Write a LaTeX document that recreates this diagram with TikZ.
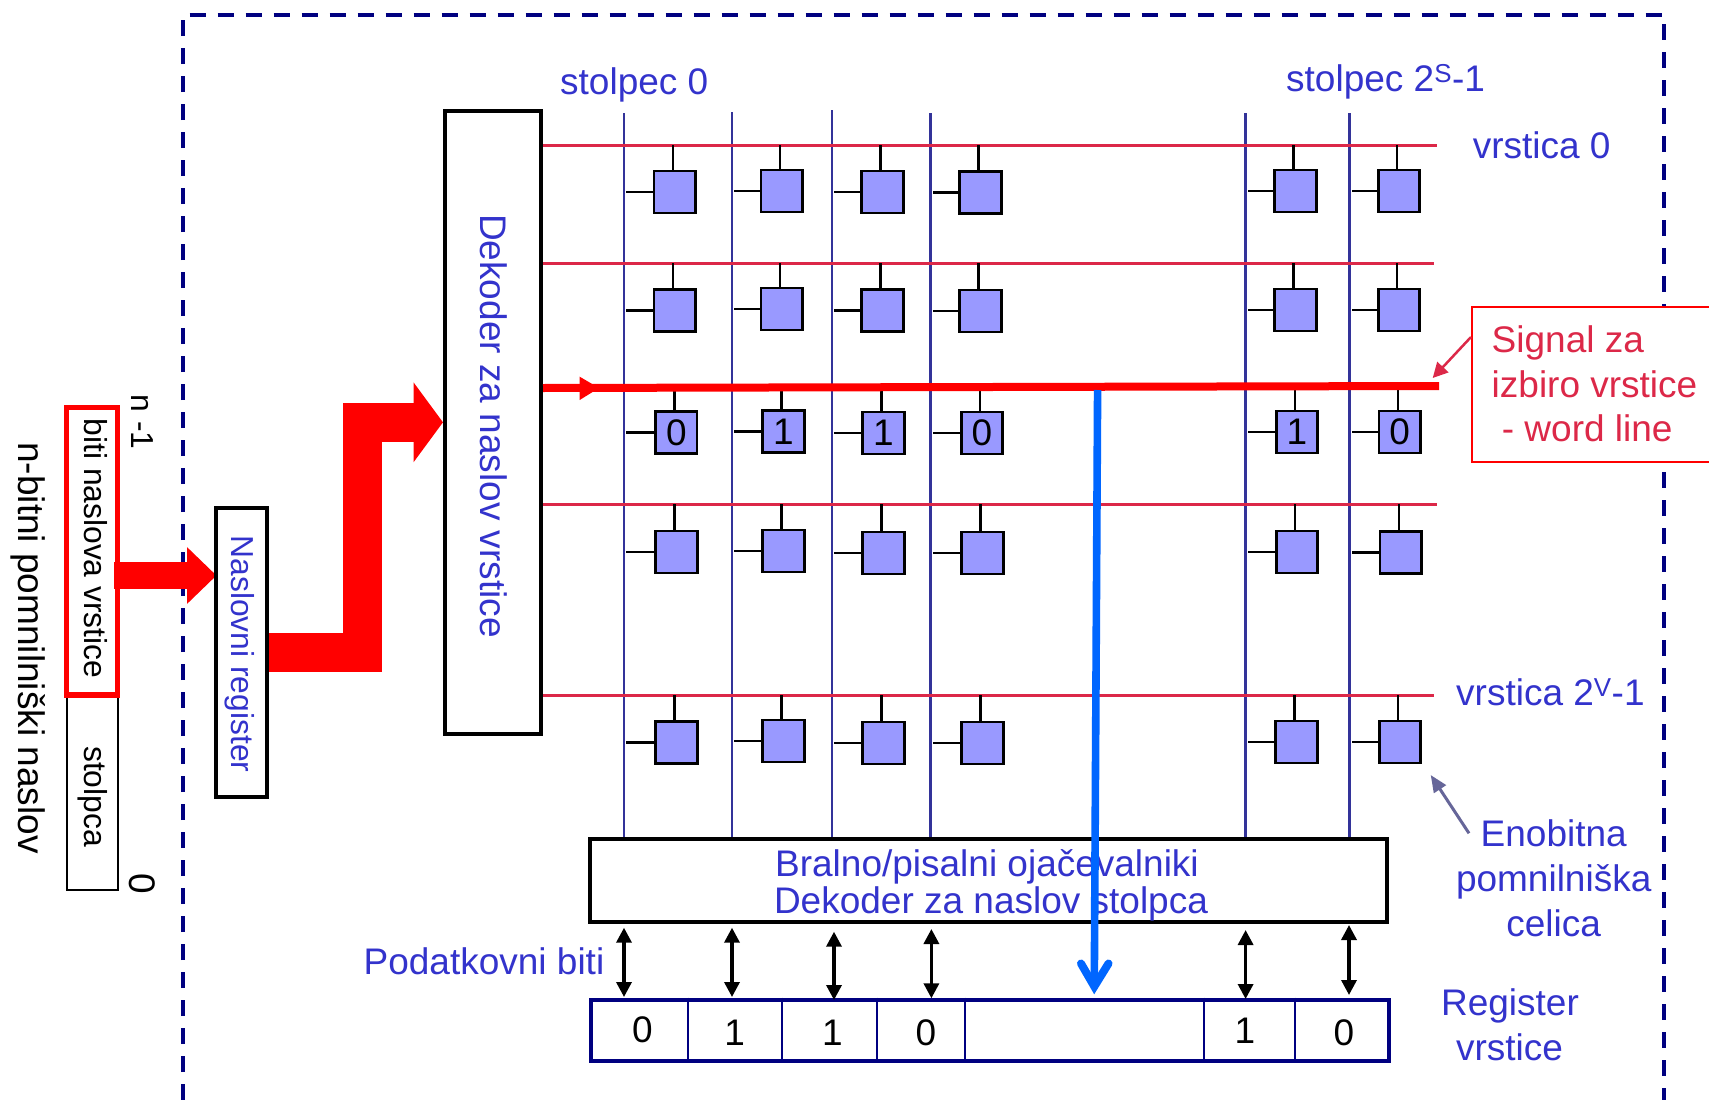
\documentclass[tikz,border=0pt]{standalone}
\usepackage{fontspec}
\setmainfont{Liberation Sans}
\usetikzlibrary{arrows.meta,calc}
\definecolor{txtblue}{HTML}{3333CC}
\definecolor{bitblue}{HTML}{333399}
\definecolor{navyframe}{HTML}{000080}
\definecolor{crimson}{HTML}{DC2848}
\definecolor{cellfill}{HTML}{9999FF}
\definecolor{hiblue}{HTML}{0066FF}
\definecolor{pointer}{HTML}{666699}
\newcommand{\bigfont}{\fontsize{37}{44}\selectfont}
\newcommand{\midfont}{\fontsize{31.8}{38}\selectfont}
\tikzset{
  box/.style={draw=black,fill=white,line width=4pt,inner sep=0pt},
  blabel/.style={text=txtblue,font=\bigfont,inner sep=0pt,align=center},
  cellbox/.style={draw=black,fill=cellfill,line width=2.6pt,minimum width=41.5pt,minimum height=42pt,inner sep=0pt,font=\bigfont},
  stub/.style={draw=black,line width=2.4pt},
  wordline/.style={draw=crimson,line width=3pt},
  bitline/.style={draw=bitblue,line width=2.6pt},
  dbl/.style={draw=black,line width=3.4pt,{Triangle[length=15pt,width=15pt]}-{Triangle[length=15pt,width=15pt]}},
  regdiv/.style={draw=navyframe,line width=1.8pt},
  digit/.style={font=\bigfont,inner sep=0pt},
  sigtext/.style={anchor=base west,text=crimson,font=\bigfont,inner sep=0pt},
  sidelabel/.style={blabel,anchor=base},
}
\begin{document}
\begin{tikzpicture}[x=1pt,y=-1pt]
\useasboundingbox (0,0) rectangle (1709,1100);
\fill[white] (0,0) rectangle (1709,1100);
% frame
\coordinate (fa) at (183,1100); \coordinate (fb) at (183,14.5); \coordinate (fc) at (1664,14.5); \coordinate (fd) at (1664,1100);
\draw[navyframe,line width=4pt,dash pattern=on 16pt off 12pt] (fa) -- (fb) -- (fc) -- (fd);
% address register
\node[draw=black,fill=white,line width=1.8pt,minimum width=51pt,minimum height=193pt,inner sep=0pt] (cb) at (92.5,793.5) {};
\node[rotate=-90,font=\midfont,inner sep=0pt] (cbt) at (93,796.5) {stolpca};
\coordinate (a1s) at (114,575.5); \coordinate (a1e) at (216.5,575.5);
\draw[line width=27pt,red,-{Triangle[length=29.5pt,width=55pt]}] (a1s) -- (a1e);
\node[draw=red,fill=none,line width=5.5pt,minimum width=51pt,minimum height=287.5pt,inner sep=0pt] (rr) at (92,551.25) {};
\node[rotate=-90,font=\midfont,inner sep=0pt] (rrt) at (96,548.5) {biti naslova vrstice};
\node[rotate=-90,font=\midfont,inner sep=0pt] (nm) at (142,422) {n -1};
\node[rotate=-90,font=\bigfont,inner sep=0pt] (zr) at (142,884) {0};
\node[rotate=-90,font=\bigfont,inner sep=0pt] (na) at (28,648) {n-bitni pomnilniški naslov};
% registers
\node[box,minimum width=50.5pt,minimum height=289.5pt] (nr) at (241.7,652.25) {};
\node[blabel,rotate=-90,font=\midfont] (nrt) at (240,654) {Naslovni register};
\node[box,minimum width=96pt,minimum height=622.7pt] (de) at (493,422.3) {};
\node[blabel,rotate=-90] (det) at (494,426) {Dekoder za naslov vrstice};
\coordinate (bend) at (362,422.3);
\draw[line width=39pt,red,-{Triangle[length=29.5pt,width=78.5pt]}] (nr.east) -| (bend) -- (de.west);
% word lines
\foreach \n/\yy/\xe in {0/145/1437,1/263/1434,3/504.3/1437,4/695/1434}{
  \coordinate (wl\n) at (543,\yy); \coordinate (wr\n) at (\xe,\yy);
}
\coordinate (wl2) at (543,388); \coordinate (wr2) at (1439,386);
% bit lines
\foreach \n/\xx/\yt in {0/624/113,1/732/112,2/832/110,3/930.5/113,4/1245.6/113,5/1349.5/113}{
  \coordinate (bt\n) at (\xx,\yt); \coordinate (bb\n) at (\xx,838);
  \draw[bitline] (bt\n) -- (bb\n);
}
\foreach \n in {0,1,3,4}{ \draw[wordline] (wl\n) -- (wr\n); }
% cells
\foreach \r/\c/\x/\y/\t in {
 0/0/674.7/191.9/,0/1/781.8/190.9/,0/2/882.5/192/,0/3/980.5/192.4/,0/4/1295.5/191/,0/5/1399/191/,
 1/0/674.7/310.3/,1/1/781.8/309/,1/2/882.5/310.5/,1/3/980.5/311/,1/4/1295.5/310/,1/5/1399/310/,
 2/0/676.3/432.3/0,2/1/783.5/431.3/1,2/2/883.5/432.8/1,2/3/982/433/0,2/4/1297/432/1,2/5/1399.7/432/0,
 3/0/676.5/552/,3/1/783.5/551/,3/2/883.5/553/,3/3/982.5/553/,3/4/1297/552/,3/5/1400.7/552.5/,
 4/0/676.5/742.3/,4/1/783.5/741/,4/2/883.5/743/,4/3/982.5/743/,4/4/1296.5/742/,4/5/1400/742/}{
  \node[cellbox] (c\r\c) at (\x,\y) {\t};
  \draw[stub] ([xshift=-2pt]c\r\c.north) -- ([xshift=-2pt]c\r\c.north |- wl\r);
  \draw[stub] (c\r\c.west) -- ($(c\r\c.west -| bt\c)+(2,0)$);
}
% selected word line
\draw[red,line width=8pt] (wl2) -- (wr2);
\fill[red] (579.7,376.7) -- (599,388) -- (579.7,400) -- cycle;
% amplifier
\node[box,minimum width=797.5pt,minimum height=83pt] (am) at (988.25,880.5) {};
\node[blabel] (am1) at (987,867) {Bralno/pisalni ojačevalniki};
\node[blabel] (am2) at (991,904) {Dekoder za naslov stolpca};
% row register
\node[draw=navyframe,fill=white,line width=4pt,minimum width=798pt,minimum height=61.2pt,inner sep=0pt] (rg) at (990,1030.1) {};
\foreach \xx in {688,782,876.6,965,1204,1295}{
  \draw[regdiv] (\xx,0 |- rg.north) -- (\xx,0 |- rg.south);
}
\foreach \n/\xx/\yy/\t in {0/642.4/1030/0,1/734.6/1033/1,2/832.5/1033/1,3/925.8/1033/0,4/1245/1031/1,5/1344/1033/0}{
  \node[digit] (rd\n) at (\xx,\yy) {\t};
}
% data arrows
\foreach \n/\xx/\ya/\yb in {0/624/927.7/997,1/732/927.7/997,2/834/931.7/1000,3/931.4/929/998.3,4/1245.6/930/999,5/1349/925/995}{
  \coordinate (du\n) at (\xx,\ya); \coordinate (dd\n) at (\xx,\yb);
  \draw[dbl] (du\n) -- (dd\n);
}
% blue read arrow
\coordinate (bs) at (1097.6,390); \coordinate (be) at (1094.3,985);
\draw[hiblue,line width=7.6pt] (bs) -- (be);
\draw[hiblue,line width=8pt,line cap=round,miter limit=10] (1081,963.5) -- (1094.3,986.5) -- (1108.5,963.5);
% labels
\node[blabel,anchor=west] (s0) at (560,85) {stolpec 0};
\node[blabel,anchor=west] (s1) at (1286,81.5) {stolpec 2\textsuperscript{S}-1};
\node[blabel,anchor=west] (v0) at (1472.6,145) {vrstica 0};
\node[blabel,anchor=west] (v1) at (1456,692) {vrstica 2\textsuperscript{V}-1};
\node[blabel,anchor=east] (pb) at (604.5,961) {Podatkovni biti};
\node[sidelabel] (en1) at (1553.7,846.7) {Enobitna};
\node[sidelabel] (en2) at (1553.7,891) {pomnilniška};
\node[sidelabel] (en3) at (1553.7,936.7) {celica};
\node[sidelabel] (rv1) at (1510,1015) {Register};
\node[sidelabel] (rv2) at (1509.5,1060.3) {vrstice};
\coordinate (ga) at (1469,833.3); \coordinate (gb) at (1430.7,775);
\draw[draw=pointer,line width=3pt,-{Triangle[length=17pt,width=14pt]}] (ga) -- (gb);
% signal callout
\node[draw=red,fill=white,line width=2pt,minimum width=250pt,minimum height=155pt,anchor=north west,inner sep=0pt] (sg) at (1471,306) {};
\node[sigtext] (sg1) at (1491.5,352.7) {Signal za};
\node[sigtext] (sg2) at (1491.5,397.7) {izbiro vrstice};
\node[sigtext] (sg3) at (1501.7,441.7) {- word line};
\coordinate (cs) at (1471,337); \coordinate (ct) at (1432.7,378);
\draw[draw=crimson,line width=2.5pt,-{Triangle[length=15pt,width=15pt]}] (cs) -- (ct);
\end{tikzpicture}
\end{document}
